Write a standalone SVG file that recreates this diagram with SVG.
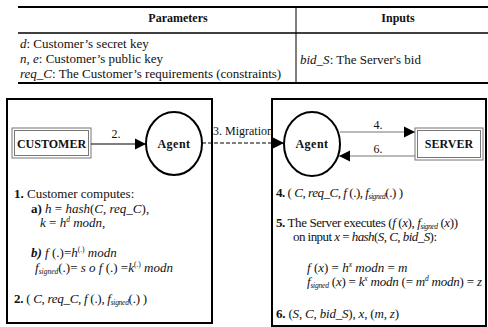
<svg xmlns="http://www.w3.org/2000/svg" width="488" height="327" viewBox="0 0 488 327">
  <style>
    text { font-family: "Liberation Serif", "Times New Roman", "DejaVu Serif", serif; font-size: 12px; font-weight: normal; fill: #111; }
    .t { font-size: 13px; }
    .b { font-weight: bold; }
    .i { font-style: italic; }
    .s { font-size: 7.5px; }
    .frame { fill: none; stroke: #000; stroke-width: 2; }
    .tbl { stroke: #000; fill: none; }
    .dbl { fill: #fff; stroke: #777; stroke-width: 1; }
    .agent { fill: #fff; stroke: #000; stroke-width: 2; }
    .arrow { fill: none; stroke-width: 1.2; }
  </style>
  <defs>
    <marker id="head" viewBox="0 0 10 10" refX="10" refY="5" markerWidth="11" markerHeight="12" markerUnits="userSpaceOnUse" orient="auto">
      <path d="M0,0 L10,5 L0,10 Z" fill="#000"/>
    </marker>
  </defs>

  <!-- parameter table -->
  <g id="table">
    <line class="tbl" x1="18" y1="7" x2="488" y2="7" stroke-width="2"/>
    <line class="tbl" x1="18" y1="33" x2="488" y2="33" stroke-width="1.5"/>
    <line class="tbl" x1="18" y1="83" x2="488" y2="83" stroke-width="2"/>
    <line class="tbl" x1="296" y1="7" x2="296" y2="83" stroke-width="1"/>
    <text class="b" x="178" y="22" text-anchor="middle">Parameters</text>
    <text class="b" x="398" y="22" text-anchor="middle">Inputs</text>
    <text class="t" x="20" y="48"><tspan class="i">d</tspan>: Customer’s secret key</text>
    <text class="t" x="20" y="63"><tspan class="i">n, e</tspan>: Customer’s public key</text>
    <text class="t" x="20" y="78"><tspan class="i">req_C</tspan>: The Customer’s requirements (constraints)</text>
    <text class="t" x="300" y="64"><tspan class="i">bid_S</tspan>: The Server's bid</text>
  </g>

  <!-- customer side -->
  <g id="customer-host">
    <rect class="frame" x="7" y="99" width="205" height="224"/>
    <text class="t" x="14" y="198"><tspan class="b">1.</tspan> Customer computes:</text>
    <text class="t" x="31" y="213"><tspan class="b">a)</tspan> <tspan class="i">h</tspan> = <tspan class="i">hash</tspan>(<tspan class="i">C</tspan>, <tspan class="i">req_C</tspan>),</text>
    <text class="t" x="40" y="227"><tspan class="i">k</tspan> = <tspan class="i">h</tspan><tspan class="s i" dy="-5">d</tspan><tspan class="i" dy="5"> modn</tspan>,</text>
    <text class="t" x="31" y="257"><tspan class="b i">b)</tspan> <tspan class="i">f</tspan> (.)=<tspan class="i">h</tspan><tspan class="s" dy="-5">(.)</tspan><tspan class="i" dy="5"> modn</tspan></text>
    <text class="t" x="35" y="272"><tspan class="i">f</tspan><tspan class="s i" dy="2">signed</tspan><tspan dy="-2">(.)= </tspan><tspan class="i">s o f</tspan> (.) =<tspan class="i">k</tspan><tspan class="s" dy="-5">(.)</tspan><tspan class="i" dy="5"> modn</tspan></text>
    <text class="t" x="14" y="303" textLength="133" lengthAdjust="spacing"><tspan class="b">2.</tspan> ( <tspan class="i">C</tspan>, <tspan class="i">req_C</tspan>, <tspan class="i">f</tspan> (.), <tspan class="i">f</tspan><tspan class="s i" dy="2">signed</tspan><tspan dy="-2">(.) )</tspan></text>
  </g>

  <g id="customer">
    <rect class="dbl" x="12" y="128" width="79" height="30"/>
    <rect class="dbl" x="14.5" y="130.5" width="74" height="25"/>
    <text class="b" x="51.5" y="148" text-anchor="middle">CUSTOMER</text>
  </g>

  <g id="agent-customer">
    <ellipse class="agent" cx="174" cy="143.5" rx="28" ry="31.5"/>
    <text class="b" x="174" y="148" text-anchor="middle" font-size="13" letter-spacing="0.5">Agent</text>
  </g>

  <!-- server side -->
  <g id="server-host">
    <rect class="frame" x="272" y="99" width="214" height="227"/>
    <text class="t" x="276" y="197" textLength="127" lengthAdjust="spacing"><tspan class="b">4.</tspan> ( <tspan class="i">C</tspan>, <tspan class="i">req_C</tspan>, <tspan class="i">f</tspan> (.), <tspan class="i">f</tspan><tspan class="s i" dy="2">signed</tspan><tspan dy="-2">(.) )</tspan></text>
    <text class="t" x="276" y="227" textLength="182" lengthAdjust="spacing"><tspan class="b">5.</tspan> The Server executes (<tspan class="i">f</tspan> (<tspan class="i">x</tspan>), <tspan class="i">f</tspan><tspan class="s i" dy="2">signed</tspan><tspan dy="-2"> (</tspan><tspan class="i">x</tspan>))</text>
    <text class="t" x="293" y="241" textLength="144" lengthAdjust="spacing">on input <tspan class="i">x</tspan> = <tspan class="i">hash</tspan>(<tspan class="i">S</tspan>, <tspan class="i">C</tspan>, <tspan class="i">bid_S</tspan>):</text>
    <text class="t" x="307" y="272"><tspan class="i">f</tspan> (<tspan class="i">x</tspan>) = <tspan class="i">h</tspan><tspan class="s i" dy="-5">x</tspan><tspan class="i" dy="5"> modn</tspan> = <tspan class="i">m</tspan></text>
    <text class="t" x="307" y="286" textLength="175" lengthAdjust="spacing"><tspan class="i">f</tspan><tspan class="s i" dy="2">signed</tspan><tspan dy="-2"> (</tspan><tspan class="i">x</tspan>) = <tspan class="i">k</tspan><tspan class="s i" dy="-5">x</tspan><tspan class="i" dy="5"> modn</tspan> (= <tspan class="i">m</tspan><tspan class="s i" dy="-5">d</tspan><tspan class="i" dy="5"> modn</tspan>) = <tspan class="i">z</tspan></text>
    <text class="t" x="276" y="318" textLength="123" lengthAdjust="spacing"><tspan class="b">6.</tspan>  (<tspan class="i">S</tspan>, <tspan class="i">C</tspan>, <tspan class="i">bid_S</tspan>), <tspan class="i">x</tspan>, (<tspan class="i">m</tspan>, <tspan class="i">z</tspan>)</text>
  </g>

  <g id="agent-server">
    <ellipse class="agent" cx="312" cy="144" rx="28" ry="32"/>
    <text class="b" x="312" y="148" text-anchor="middle" font-size="13" letter-spacing="0.5">Agent</text>
  </g>

  <g id="server">
    <rect class="dbl" x="415" y="128" width="68" height="32"/>
    <rect class="dbl" x="417.5" y="130.5" width="63" height="27"/>
    <text class="b" x="449" y="148" text-anchor="middle">SERVER</text>
  </g>

  <!-- connectors -->
  <g id="connectors">
    <line class="arrow" x1="91" y1="144" x2="146" y2="144" stroke="#000" marker-end="url(#head)"/>
    <text x="116" y="138" text-anchor="middle">2.</text>
    <line class="arrow" x1="202" y1="143" x2="284" y2="143" stroke="#000" stroke-dasharray="4,2" marker-end="url(#head)"/>
    <text x="213" y="135">3. Migration</text>
    <line class="arrow" x1="340" y1="132" x2="415" y2="132" stroke="#777" marker-end="url(#head)"/>
    <text x="378" y="129" text-anchor="middle">4.</text>
    <line class="arrow" x1="415" y1="156" x2="339" y2="156" stroke="#777" marker-end="url(#head)"/>
    <text x="378" y="153" text-anchor="middle">6.</text>
  </g>
</svg>
